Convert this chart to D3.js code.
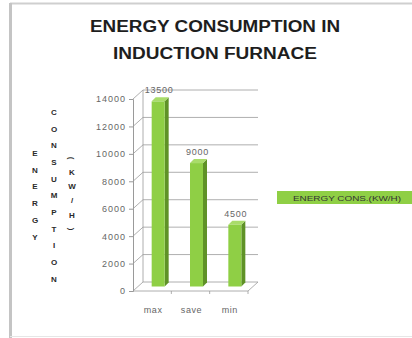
<!DOCTYPE html>
<html>
<head>
<meta charset="utf-8">
<script src="https://cdn.jsdelivr.net/npm/d3@7"></script>
<style>
  html, body { margin: 0; padding: 0; background: #fff; }
  svg { display: block; }
</style>
</head>
<body>
<svg id="chart" width="412" height="338"></svg>
<script>
// Chart data
const categories = ["max", "save", "min"];
const energyValues = [13500, 9000, 4500];
const yTicks = [0, 2000, 4000, 6000, 8000, 10000, 12000, 14000];
const titleLines = ["ENERGY CONSUMPTION IN", "INDUCTION FURNACE"];
const seriesName = "ENERGY CONS.(KW/H)";
const axisTitleColumns = [
  ["E", "N", "E", "R", "G", "Y"],
  ["C", "O", "N", "S", "U", "M", "P", "T", "I", "O", "N"],
  ["(", "K", "W", "/", "H", ")"]
];

const svg = d3.select("#chart");
const FONT = "Liberation Sans, Arial, sans-serif";

// Frame
svg.append("rect").attr("x", 0).attr("y", 0).attr("width", 412).attr("height", 338).attr("fill", "#fff");
svg.append("line").attr("x1", 10).attr("x2", 412).attr("y1", 3.5).attr("y2", 3.5)
  .attr("stroke", "#cfcfcf").attr("stroke-width", 2);
svg.append("line").attr("x1", 10.5).attr("x2", 10.5).attr("y1", 3).attr("y2", 338)
  .attr("stroke", "#c4c4c4").attr("stroke-width", 3);
svg.append("line").attr("x1", 10).attr("x2", 412).attr("y1", 336.5).attr("y2", 336.5)
  .attr("stroke", "#e6e6e6").attr("stroke-width", 1);

// Title
svg.selectAll("text.title").data(titleLines).join("text")
  .attr("class", "title")
  .attr("x", 215)
  .attr("y", (d, i) => 32 + i * 27)
  .attr("text-anchor", "middle")
  .attr("font-family", FONT)
  .attr("font-weight", "bold")
  .attr("font-size", 16)
  .attr("textLength", (d, i) => i === 0 ? 250 : 204)
  .attr("lengthAdjust", "spacingAndGlyphs")
  .attr("fill", "#1e1e1e")
  .text(d => d);

// Plot geometry (oblique 3D projection)
const frontLeft = 133, frontRight = 248;
const depthX = 10, depthY = -9;
const x = d3.scaleBand().domain(categories).range([frontLeft, frontRight]);
const y = d3.scaleLinear().domain([0, 14000]).range([291, 99]);

const grid = svg.append("g").attr("stroke", "#9a9a9a").attr("stroke-width", 0.8).attr("fill", "none");

// Back wall gridlines
grid.selectAll("line.gridline").data(yTicks).join("line")
  .attr("class", "gridline")
  .attr("x1", frontLeft + depthX).attr("x2", frontRight + depthX)
  .attr("y1", d => y(d) + depthY).attr("y2", d => y(d) + depthY);
// Side wall: ties from front axis to back wall
grid.selectAll("line.tie").data(yTicks).join("line")
  .attr("class", "tie")
  .attr("x1", frontLeft).attr("x2", frontLeft + depthX)
  .attr("y1", d => y(d)).attr("y2", d => y(d) + depthY);
// Back wall left edge
grid.append("line")
  .attr("x1", frontLeft + depthX).attr("x2", frontLeft + depthX)
  .attr("y1", y(0) + depthY).attr("y2", y(14000) + depthY);
// Floor
grid.append("path")
  .attr("d", `M${frontLeft},${y(0)} L${frontRight},${y(0)} L${frontRight + depthX},${y(0) + depthY}`);
// Category tick marks along the floor edge
grid.selectAll("line.ctick").data(categories).join("line")
  .attr("class", "ctick")
  .attr("x1", d => x(d) + x.bandwidth()).attr("x2", d => x(d) + x.bandwidth())
  .attr("y1", y(0)).attr("y2", y(0) + 3);

// Value axis
const yAxis = d3.axisLeft(y).tickValues(yTicks).tickSize(4).tickPadding(3).tickFormat(d3.format("d"));
const yg = svg.append("g").attr("transform", `translate(${frontLeft},0)`).call(yAxis);
yg.select(".domain").attr("stroke", "#9a9a9a");
yg.selectAll(".tick line").attr("stroke", "#9a9a9a");
yg.selectAll(".tick text")
  .attr("font-family", FONT)
  .attr("font-size", 9).attr("letter-spacing", 1).attr("fill", "#666");

// Bars
const barW = 13, barDX = 4, barDY = -4, barDepthFrac = 0.5;
const bars = svg.append("g");
const data = categories.map((c, i) => ({ c, v: energyValues[i] }));
data.forEach(d => {
  const x0 = x(d.c) + x.bandwidth() / 2 - barW / 2 + depthX * barDepthFrac + 1;
  const yb = y(0) + depthY * barDepthFrac;
  const yt = y(d.v) + depthY * barDepthFrac;
  const g = bars.append("g");
  // side face
  g.append("path")
    .attr("d", `M${x0 + barW},${yt} L${x0 + barW + barDX},${yt + barDY} L${x0 + barW + barDX},${yb + barDY} L${x0 + barW},${yb} Z`)
    .attr("fill", "#5f9227");
  // top face
  g.append("path")
    .attr("d", `M${x0},${yt} L${x0 + barDX},${yt + barDY} L${x0 + barW + barDX},${yt + barDY} L${x0 + barW},${yt} Z`)
    .attr("fill", "#a9dc6a");
  // front face
  g.append("rect")
    .attr("x", x0).attr("y", yt).attr("width", barW).attr("height", yb - yt)
    .attr("fill", "#8fcf45");
  // value label
  g.append("text")
    .attr("x", x0 + barW / 2 + 1).attr("y", yt + barDY - 4)
    .attr("text-anchor", "middle")
    .attr("font-family", FONT)
    .attr("font-size", 9).attr("letter-spacing", 0.8).attr("fill", "#666")
    .text(d.v);
});

// Category labels
svg.selectAll("text.cat").data(categories).join("text")
  .attr("class", "cat")
  .attr("x", d => x(d) + x.bandwidth() / 2 + 1)
  .attr("y", 313)
  .attr("text-anchor", "middle")
  .attr("font-family", FONT)
  .attr("font-size", 9).attr("letter-spacing", 0.6).attr("fill", "#666")
  .text(d => d);

// Stacked value-axis title
const colX = [35, 54, 72];
const colStart = [153, 112, 158];
const colStep = [16.8, 16.7, 14.2];
axisTitleColumns.forEach((letters, ci) => {
  svg.append("g").selectAll("text").data(letters).join("text")
    .attr("transform", (d, i) => {
      const cy = colStart[ci] + i * colStep[ci];
      const rot = (d === "(" || d === ")") ? ` rotate(90)` : "";
      return `translate(${colX[ci]},${cy})${rot}`;
    })
    .attr("dy", "0.35em")
    .attr("text-anchor", "middle")
    .attr("font-family", FONT)
    .attr("font-weight", "bold")
    .attr("font-size", 8)
    .attr("fill", "#2a2a2a")
    .text(d => d);
});

// Legend
const legend = svg.append("g");
legend.append("rect").attr("x", 277).attr("y", 191).attr("width", 140).attr("height", 13).attr("fill", "#8fcf45");
legend.append("text")
  .attr("x", 293).attr("y", 200.5)
  .attr("font-family", FONT)
  .attr("font-size", 7)
  .attr("textLength", 108).attr("lengthAdjust", "spacingAndGlyphs")
  .attr("fill", "#333")
  .text(seriesName);
</script>
</body>
</html>
